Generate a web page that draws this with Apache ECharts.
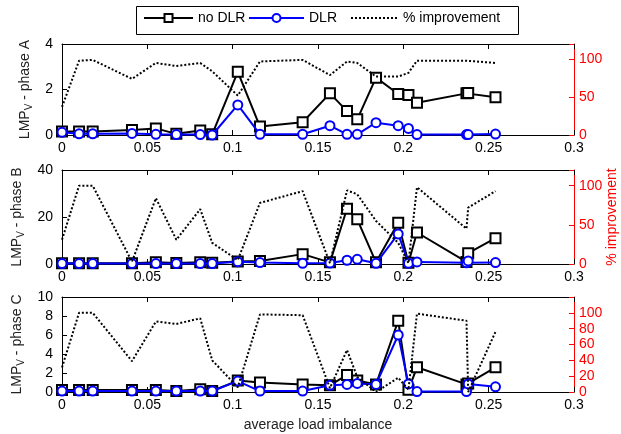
<!DOCTYPE html>
<html>
<head>
<meta charset="utf-8">
<script src="https://cdn.jsdelivr.net/npm/echarts@6/dist/echarts.min.js"></script>
<style>
  html, body { margin: 0; padding: 0; background: #fff; }
  #main { width: 621px; height: 434px; }
</style>
</head>
<body>
<div id="main"></div>
<script>
// average load imbalance (same for the three phases)
var imbalance = [0, 0.010, 0.018, 0.041, 0.055, 0.067, 0.081, 0.088, 0.103, 0.116, 0.141,
  0.157, 0.167, 0.173, 0.184, 0.197, 0.203, 0.208, 0.237, 0.238, 0.254];

// phase A
var noDlrA = [0.15, 0.15, 0.15, 0.22, 0.29, 0.05, 0.2, 0.03, 2.78, 0.37, 0.56,
  1.83, 1.05, 0.69, 2.52, 1.80, 1.76, 1.42, 1.83, 1.85, 1.66];
var dlrA = [0.12, 0.05, 0.05, 0.07, 0.03, 0.02, 0.02, 0.0, 1.32, 0.03, 0.03,
  0.41, 0.03, 0.03, 0.54, 0.41, 0.29, 0.02, 0.02, 0.02, 0.04];
var improvA = [37, 98, 99, 74, 95, 91, 95, 84, 52, 97, 99,
  79, 97, 95, 77, 77, 82, 98, 98, 97, 95];

// phase B
var noDlrB = [0.3, 0.3, 0.3, 0.3, 0.7, 0.4, 0.7, 0.5, 1.1, 1.3, 4.2,
  0.7, 23.5, 19.0, 0.7, 17.6, 0.5, 13.4, 0.9, 4.6, 11.0];
var dlrB = [0.2, 0.2, 0.2, 0.2, 0.2, 0.2, 0.2, 0.2, 1.0, 0.6, 0.3,
  0.4, 1.6, 2.0, 0.3, 12.8, 0.3, 0.9, 0.5, 1.3, 0.6];
var improvB = [31, 100, 100, 3, 84, 31, 70, 27, 5, 78, 93,
  1, 94, 89, 55, 27, 1, 98, 45, 72, 93];

// phase C
var noDlrC = [0.2, 0.2, 0.2, 0.2, 0.2, 0.1, 0.3, 0.1, 1.2, 1.0, 0.8,
  0.7, 1.8, 1.2, 0.8, 7.5, 0.25, 2.6, 0.8, 0.9, 2.6];
var dlrC = [0.1, 0.1, 0.1, 0.1, 0.1, 0.1, 0.1, 0.1, 1.15, 0.1, 0.1,
  0.7, 0.8, 0.9, 0.8, 6.0, 0.85, 0.05, 0.05, 0.85, 0.55];
var improvC = [31, 100, 100, 39, 89, 86, 93, 40, 6, 98, 97,
  5, 53, 19, 0, 18, 3, 99, 90, 0, 76];

var phases = ['A', 'B', 'C'];
var leftMax = [4, 40, 10];
var leftStep = [2, 20, 2];
var rightStep = [50, 50, 20];
var noDlr = [noDlrA, noDlrB, noDlrC];
var dlr = [dlrA, dlrB, dlrC];
var improv = [improvA, improvB, improvC];

var FONT = 'Liberation Sans, Arial, Helvetica, sans-serif';

function pairs(ys) {
  var out = [];
  for (var i = 0; i < imbalance.length; i++) out.push([imbalance[i], ys[i]]);
  return out;
}

var grids = [
  {left: 62, width: 512, top: 44, height: 91, outerBoundsMode: 'none'},
  {left: 62, width: 512, top: 170, height: 94, outerBoundsMode: 'none'},
  {left: 62, width: 512, top: 297, height: 95, outerBoundsMode: 'none'}
];

var xAxes = [], yAxes = [], series = [];

for (var g = 0; g < 3; g++) {
  xAxes.push({
    type: 'value', gridIndex: g, position: 'bottom', min: 0, max: 0.3, interval: 0.05,
    name: g === 2 ? 'average load imbalance' : '',
    nameLocation: 'middle', nameGap: 26,
    nameTextStyle: {fontFamily: FONT, fontSize: 14, color: '#222'},
    axisLine: {onZero: false, lineStyle: {color: '#000', width: 1}},
    axisTick: {inside: true, length: 5, lineStyle: {color: '#000'}},
    axisLabel: {fontFamily: FONT, fontSize: 14, color: '#000', margin: 6},
    splitLine: {show: false}
  });
}
for (var g = 0; g < 3; g++) {
  xAxes.push({
    type: 'value', gridIndex: g, position: 'top', min: 0, max: 0.3, interval: 0.05,
    axisLine: {onZero: false, lineStyle: {color: '#000', width: 1}},
    axisTick: {inside: true, length: 5, lineStyle: {color: '#000'}},
    axisLabel: {show: false},
    splitLine: {show: false}
  });
}
for (var g = 0; g < 3; g++) {
  yAxes.push({
    type: 'value', gridIndex: g, position: 'left', min: 0, max: leftMax[g], interval: leftStep[g],
    name: '{n|LMP}{s|V}{n| - phase ' + phases[g] + '}',
    nameLocation: 'middle', nameGap: 27, nameRotate: 90,
    nameTextStyle: {
      color: '#222',
      rich: {
        n: {fontFamily: FONT, fontSize: 14, color: '#222'},
        s: {fontFamily: FONT, fontSize: 10, color: '#222', padding: [9, 0, 0, 0]}
      }
    },
    axisLine: {show: true, onZero: false, lineStyle: {color: '#000', width: 1}},
    axisTick: {show: true, inside: true, length: 5, lineStyle: {color: '#000'}},
    axisLabel: {fontFamily: FONT, fontSize: 14, color: '#000', margin: 9},
    splitLine: {show: false}
  });
}
for (var g = 0; g < 3; g++) {
  yAxes.push({
    type: 'value', gridIndex: g, position: 'right', min: 0, max: 120, interval: rightStep[g],
    axisLine: {show: true, onZero: false, lineStyle: {color: '#ff0000', width: 1}},
    axisTick: {show: true, inside: true, length: 5, lineStyle: {color: '#ff0000'}},
    axisLabel: {
      fontFamily: FONT, fontSize: 14, color: '#ff0000', margin: 5,
      formatter: function (v) { return v > 100 ? '' : v; }
    },
    splitLine: {show: false}
  });
}

for (var g = 0; g < 3; g++) {
  series.push({
    name: 'no DLR', type: 'line', xAxisIndex: g, yAxisIndex: g,
    data: pairs(noDlr[g]),
    symbol: 'rect', symbolSize: 10, showAllSymbol: true,
    lineStyle: {color: '#000', width: 2},
    itemStyle: {color: '#fff', borderColor: '#000', borderWidth: 2},
    animation: false, z: 2
  });
  series.push({
    name: 'DLR', type: 'line', xAxisIndex: g, yAxisIndex: g,
    data: pairs(dlr[g]),
    symbol: 'circle', symbolSize: 9, showAllSymbol: true,
    lineStyle: {color: '#0000ff', width: 2},
    itemStyle: {color: '#fff', borderColor: '#0000ff', borderWidth: 2},
    animation: false, z: 3
  });
  series.push({
    name: '% improvement', type: 'line', xAxisIndex: g, yAxisIndex: g + 3,
    data: pairs(improv[g]),
    symbol: 'none',
    lineStyle: {color: '#000', width: 2, type: [2, 2]},
    itemStyle: {color: '#000'},
    animation: false, z: 4
  });
}

function legendFor(name, left, w, noSymbol) {
  var lg = {
    data: [name], left: left, top: 11, itemWidth: w, itemHeight: 10, itemGap: 0,
    padding: 0, selectedMode: false,
    textStyle: {fontFamily: FONT, fontSize: 14, color: '#000'}
  };
  if (noSymbol) lg.itemStyle = {opacity: 0};
  return lg;
}

var chart = echarts.init(document.getElementById('main'), null, {renderer: 'canvas'});
chart.setOption({
  backgroundColor: '#fff',
  animation: false,
  grid: grids,
  xAxis: xAxes,
  yAxis: yAxes,
  legend: [
    legendFor('no DLR', 143, 49),
    legendFor('DLR', 248, 55),
    legendFor('% improvement', 350, 47, true)
  ],
  graphic: [{
    type: 'rect', left: 134, top: 4,
    shape: {width: 382, height: 28},
    style: {fill: 'none', stroke: '#000', lineWidth: 1}
  }, {
    // right axis title of the middle panel
    type: 'text', x: 612, y: 217, rotation: Math.PI / 2,
    style: {
      text: '% improvement', fill: '#ff0000', align: 'center', verticalAlign: 'middle',
      font: '14px ' + FONT
    }
  }],
  series: series
});
</script>
</body>
</html>
